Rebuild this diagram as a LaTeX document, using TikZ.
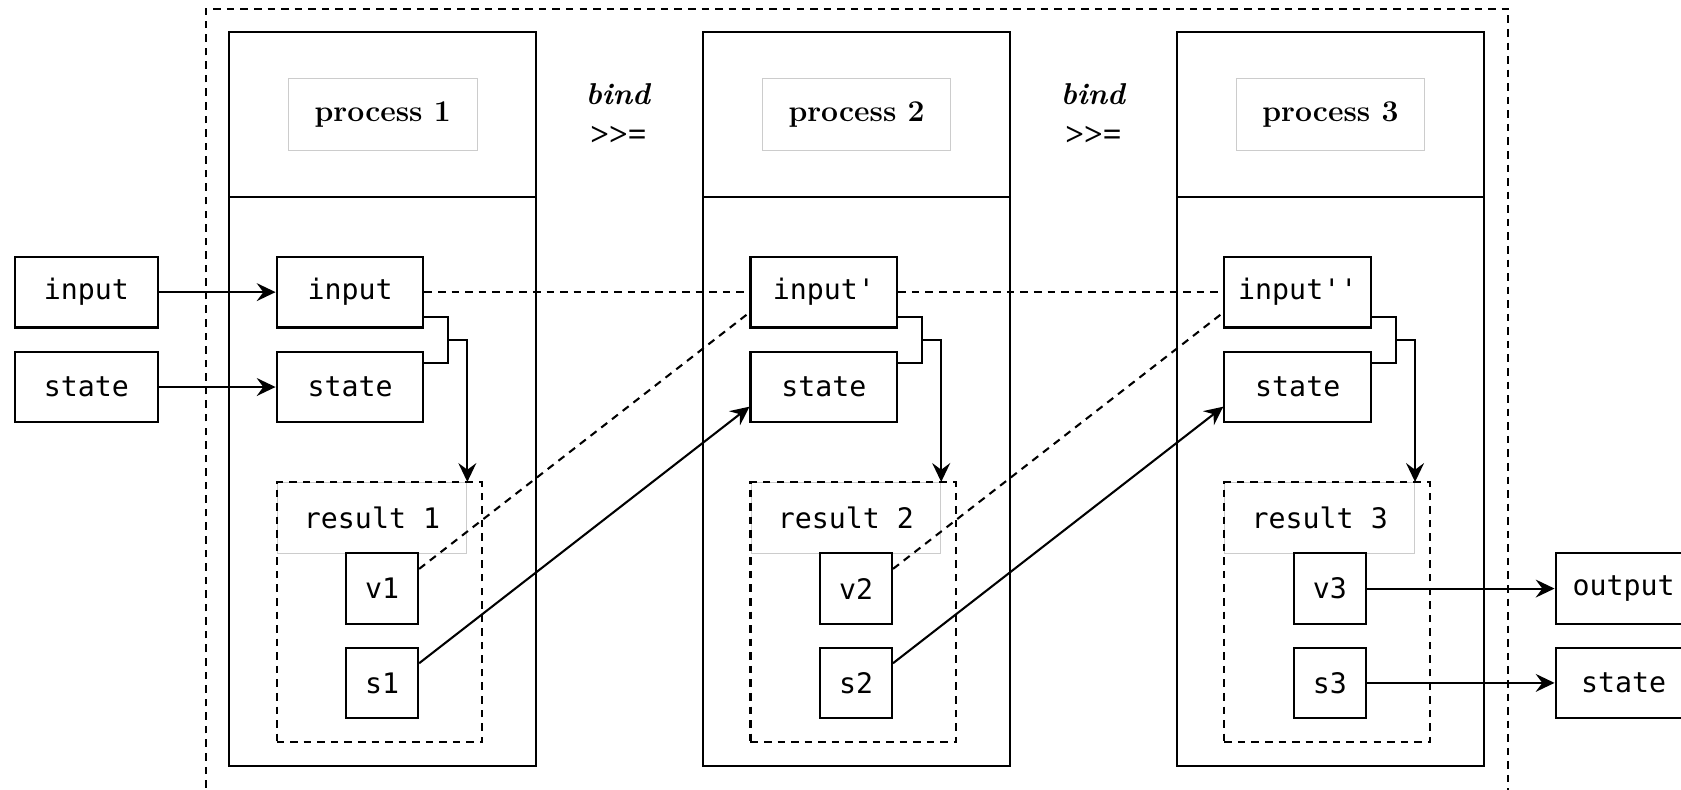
\documentclass[tikz,border=0pt]{standalone}
\usepackage{fontspec}
\newfontfamily\codefont{DejaVu Sans Mono}
\newfontfamily\opfont{Liberation Serif}
\usetikzlibrary{arrows.meta,calc}
% straight apostrophe for primed names
\newcommand\tick{\char"27\relax}
% the bind operator, kept apart from the >> ligature
\newcommand\bindop{{\opfont\bfseries\fontsize{17.5}{21.6}\selectfont>\kern0pt>\kern0pt=}}
\begin{document}
\begin{tikzpicture}[x=0.02cm, y=-0.02cm,
  base/.style={line width=1.1pt},
  dashline/.style={base, dash pattern=on 4pt off 3.2pt},
  arr/.style={base, -{Stealth[length=10pt,width=9.5pt,inset=3.5pt]}},
  codebox/.style={draw, line width=1.1pt, inner sep=0pt, minimum height=1.32cm,
                  font=\codefont\fontsize{15}{18}\selectfont},
  widebox/.style={codebox, minimum width=2.74cm},
  smallbox/.style={codebox, minimum width=1.34cm},
  procbox/.style={draw, line width=1.1pt, minimum width=5.72cm, minimum height=13.7cm, inner sep=0pt},
  titlebox/.style={draw=black!20, line width=0.5pt, minimum width=3.52cm, minimum height=1.34cm,
                   inner sep=0pt, font=\bfseries\fontsize{16}{20}\selectfont},
  reslabel/.style={draw=black!20, line width=0.5pt, minimum width=3.54cm, minimum height=1.32cm,
                   inner sep=0pt, font=\codefont\fontsize{15}{18}\selectfont},
  resbox/.style={draw, dashline, minimum width=3.84cm, minimum height=4.84cm, inner sep=0pt},
  bindlabel/.style={align=center, inner sep=0pt, font=\bfseries\fontsize{16}{21.6}\selectfont}
]
\useasboundingbox (0,0) rectangle (1568,736);
\clip (0,0) rectangle (1568,736);

% outer dashed frame (runs past the lower edge)
\draw[dashline] (192,760) -- (192,8) -- (1407,8) -- (1407,760);

% external inputs
\node[codebox, minimum width=2.66cm] (in0) at (80.5,272.5) {input};
\node[codebox, minimum width=2.66cm] (st0) at (80.5,361) {state};

\coordinate (hdr) at (0,184);

% the three process stages
\foreach \k/\n/\lab in {0/1/input, 1/2/input\tick, 2/3/input\tick\tick}{
  \node[procbox] (P\n) at ({357+442*\k},372.5) {};
  \draw[base] (P\n.west |- hdr) -- (P\n.east |- hdr);
  \node[titlebox] (lab\n) at ({357+442*\k},106.5) {process \n};
  \node[widebox] (inp\n) at ({326.5+442*\k},272.5) {\lab};
  \node[widebox] (sta\n) at ({326.5+442*\k},361) {state};
  \node[reslabel] (rl\n) at ({347+442*\k},483) {result \n};
  \node[resbox] (res\n) at ({354+442*\k},571) {};
  \node[smallbox] (v\n) at ({356.5+442*\k},549) {v\n};
  \node[smallbox] (s\n) at ({356.5+442*\k},637) {s\n};
  % input and state both feed the result
  \draw[base] ($(inp\n.south east)+(0,-10.5)$) -- ++(22,0) |- ($(sta\n.north east)+(0,11.5)$);
  \draw[arr] ($(inp\n.south east)+(22,10.5)$) -| (rl\n.north east);
}

% bind operators between stages
\node[bindlabel] (b1) at (577,107) {\textit{bind}\\\bindop};
\node[bindlabel] (b2) at (1020,107) {\textit{bind}\\\bindop};

% final outputs
\node[codebox, minimum width=2.54cm] (out) at (1514.5,549) {output};
\node[codebox, minimum width=2.54cm] (stout) at (1514.5,637) {state};

% connectors
\draw[arr] (in0.east) -- (inp1.west);
\draw[arr] (st0.east) -- (sta1.west);
\draw[dashline] (inp1.east) -- (inp2.west);
\draw[dashline] (inp2.east) -- (inp3.west);
\draw[dashline] ($(v1.north east)!0.23!(v1.south east)$) -- ($(inp2.north west)!0.78!(inp2.south west)$);
\draw[dashline] ($(v2.north east)!0.23!(v2.south east)$) -- ($(inp3.north west)!0.78!(inp3.south west)$);
\draw[arr] ($(s1.north east)!0.23!(s1.south east)$) -- ($(sta2.north west)!0.77!(sta2.south west)$);
\draw[arr] ($(s2.north east)!0.23!(s2.south east)$) -- ($(sta3.north west)!0.77!(sta3.south west)$);
\draw[arr] (v3.east) -- (out.west);
\draw[arr] (s3.east) -- (stout.west);
\end{tikzpicture}
\end{document}
